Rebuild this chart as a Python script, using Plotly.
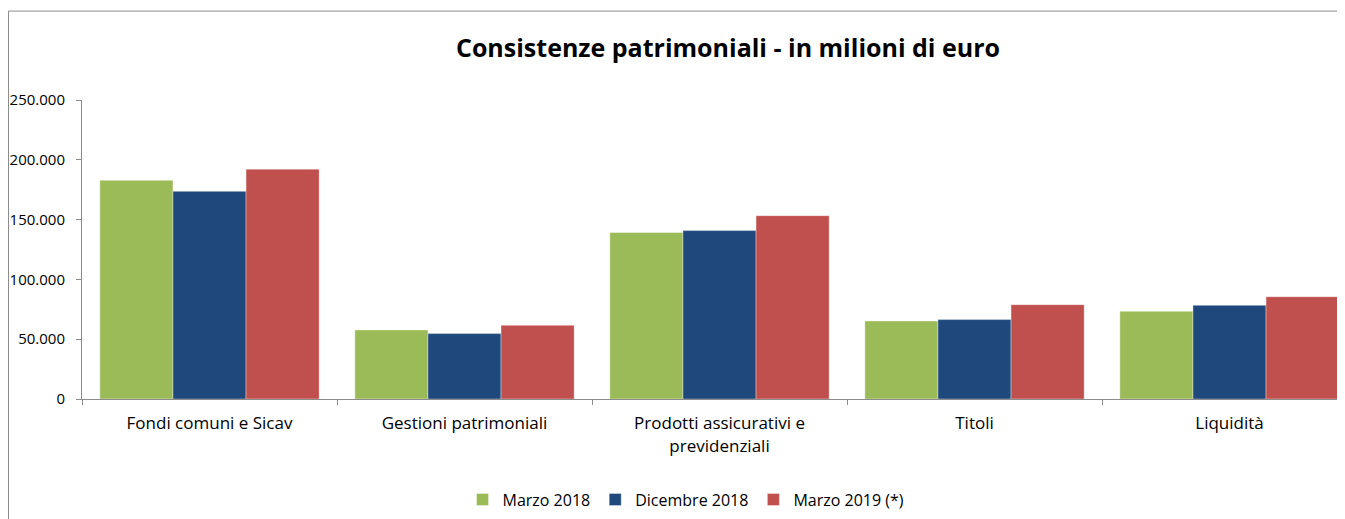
import plotly.graph_objects as go

categories = ["Fondi comuni e Sicav", "Gestioni patrimoniali",
              "Prodotti assicurativi e<br>previdenziali", "Titoli", "Liquidità"]
series_names = ["Marzo 2018", "Dicembre 2018", "Marzo 2019 (*)"]
marzo_2018 = [182800, 57700, 139200, 65200, 73300]
dicembre_2018 = [173600, 54700, 140800, 66400, 78300]
marzo_2019 = [192200, 61600, 153300, 78900, 85500]
colors = ["#9BBB59", "#1F497D", "#C0504D"]
y_ticks = [0, 50000, 100000, 150000, 200000, 250000]

# page has an 8px body margin; work in page pixel coordinates and convert
OFF = 8
W, H = 1345 - OFF, 519 - OFF
ML, MT = 82 - OFF, 100 - OFF
MB = H - (399.3 - OFF)
MR = 0
pw = W - ML - MR
ph = H - MT - MB

fig = go.Figure()
for name, vals, col in zip(series_names, [marzo_2018, dicembre_2018, marzo_2019], colors):
    fig.add_trace(go.Bar(
        name=name, x=categories, y=vals,
        marker=dict(color=col, line=dict(color="rgba(255,255,255,0.6)", width=0.6)),
    ))

def px_x(p):  # page px -> paper
    return (p - OFF - ML) / pw

def px_y(p):
    return (H - MB - (p - OFF)) / ph

fig.update_layout(
    width=W, height=H,
    margin=dict(l=ML, r=MR, t=MT, b=MB, pad=0),
    paper_bgcolor="white", plot_bgcolor="white",
    barmode="group", bargap=0.14, bargroupgap=0,
    separators=",.",
    font=dict(family="Open Sans, Noto Sans, sans-serif", color="#000000"),
    title=dict(text="<b>Consistenze patrimoniali - in milioni di euro</b>",
               x=(728 - OFF) / W, xanchor="center", y=1 - (48 - OFF) / H, yanchor="middle",
               font=dict(size=25, color="#000000")),
    xaxis=dict(range=[-0.5, -0.5 + (1345 - 82) / 255.0], showline=True, linecolor="#8c8c8c", linewidth=1,
               ticks="outside", tickson="boundaries", ticklen=5, tickcolor="#8c8c8c",
               ticklabelstandoff=9,
               tickfont=dict(size=17, color="#000000"), showgrid=False, fixedrange=True),
    yaxis=dict(range=[0, 250000], tickvals=y_ticks, tickformat=",d",
               showline=True, linecolor="#8c8c8c", linewidth=1,
               ticks="outside", ticklen=5, tickcolor="#8c8c8c",
               ticklabelstandoff=8,
               tickfont=dict(size=15, color="#000000"), showgrid=False, zeroline=False),
    legend=dict(orientation="h", x=px_x(686), xanchor="center", y=px_y(500), yanchor="middle",
                font=dict(size=16, color="#000000"), itemwidth=30, traceorder="normal"),
    shapes=[
        dict(type="line", xref="paper", yref="paper", x0=px_x(8.5), x1=px_x(8.5), y0=px_y(11), y1=px_y(530),
             line=dict(color="#8c8c8c", width=1)),
        dict(type="line", xref="paper", yref="paper", x0=px_x(8.5), x1=px_x(1360), y0=px_y(11), y1=px_y(11),
             line=dict(color="#8c8c8c", width=1)),
    ],
)

fig.write_html("out.html")
